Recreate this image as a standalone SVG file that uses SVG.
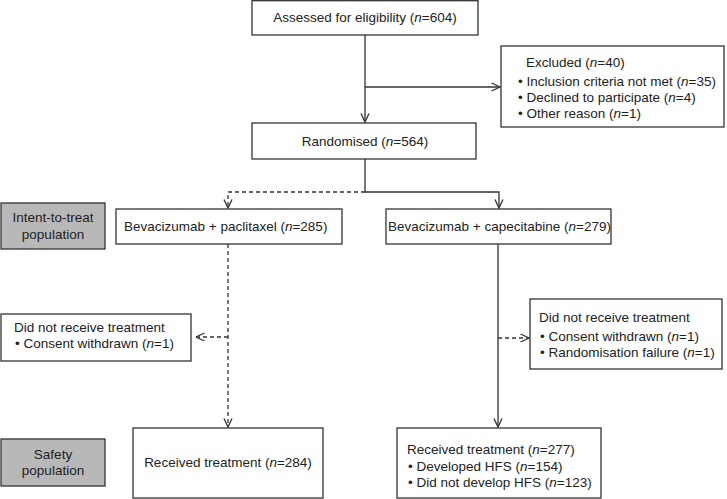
<svg xmlns="http://www.w3.org/2000/svg" width="727" height="499" viewBox="0 0 727 499">
<defs>
<marker id="ah" viewBox="0 0 10 10" refX="9.5" refY="5" markerWidth="10" markerHeight="10" markerUnits="userSpaceOnUse" orient="auto">
<path d="M1,1 L9.5,5 L1,9" fill="none" stroke="#333" stroke-width="1.3"/>
</marker>
</defs>
<style>
.box{fill:#fff;stroke:#333;stroke-width:1.3}
.gbox{fill:#b8b8b8;stroke:#333;stroke-width:1.3}
text{font-family:"Liberation Sans",Arial,sans-serif;font-size:13.5px;fill:#222}
.c{text-anchor:middle}
.ln{fill:none;stroke:#333;stroke-width:1.3}
.d{stroke-dasharray:4 3}
.i{font-style:italic}
</style>
<g id="connectors">
<path class="ln" d="M365,35 V122" marker-end="url(#ah)"/>
<path class="ln" d="M365,87 H500" marker-end="url(#ah)"/>
<path class="ln" d="M365,159 V192 H499 V208" marker-end="url(#ah)"/>
<path class="ln d" d="M365,192 H228 V208" marker-end="url(#ah)"/>
<path class="ln d" d="M228,244 V427" marker-end="url(#ah)"/>
<path class="ln d" d="M228,337 H196" marker-end="url(#ah)"/>
<path class="ln" d="M498,244 V427" marker-end="url(#ah)"/>
<path class="ln d" d="M498,338 H529" marker-end="url(#ah)"/>
</g>
<g id="assessed">
<rect class="box" x="252" y="0.7" width="226" height="34.3"/>
<text class="c" x="365" y="22">Assessed for eligibility (<tspan class="i">n</tspan>=604)</text>
</g>
<g id="excluded">
<rect class="box" x="501" y="46" width="223" height="81"/>
<text x="526" y="67">Excluded (<tspan class="i">n</tspan>=40)</text>
<text x="518" y="86">• Inclusion criteria not met (<tspan class="i">n</tspan>=35)</text>
<text x="518" y="102">• Declined to participate (<tspan class="i">n</tspan>=4)</text>
<text x="518" y="118">• Other reason (<tspan class="i">n</tspan>=1)</text>
</g>
<g id="randomised">
<rect class="box" x="252" y="123" width="224" height="36"/>
<text class="c" x="365" y="146">Randomised (<tspan class="i">n</tspan>=564)</text>
</g>
<g id="itt">
<rect class="gbox" x="1" y="203" width="104" height="46"/>
<text class="c" x="53" y="222">Intent-to-treat</text>
<text class="c" x="53" y="239">population</text>
</g>
<g id="paclitaxel">
<rect class="box" x="116" y="209" width="226" height="35"/>
<text x="124" y="231">Bevacizumab + paclitaxel (<tspan class="i">n</tspan>=285)</text>
</g>
<g id="capecitabine">
<rect class="box" x="386" y="209" width="225" height="35"/>
<text x="388" y="231">Bevacizumab + capecitabine (<tspan class="i">n</tspan>=279)</text>
</g>
<g id="notreceived-left">
<rect class="box" x="1" y="314" width="190" height="47"/>
<text x="14" y="332">Did not receive treatment</text>
<text x="15" y="348">• Consent withdrawn (<tspan class="i">n</tspan>=1)</text>
</g>
<g id="notreceived-right">
<rect class="box" x="530" y="299" width="192" height="70"/>
<text x="539" y="322">Did not receive treatment</text>
<text x="540" y="341">• Consent withdrawn (<tspan class="i">n</tspan>=1)</text>
<text x="540" y="357">• Randomisation failure (<tspan class="i">n</tspan>=1)</text>
</g>
<g id="safety">
<rect class="gbox" x="1" y="439" width="104" height="47"/>
<text class="c" x="53" y="459">Safety</text>
<text class="c" x="53" y="475">population</text>
</g>
<g id="received-left">
<rect class="box" x="133" y="428" width="190" height="70"/>
<text class="c" x="228" y="467">Received treatment (<tspan class="i">n</tspan>=284)</text>
</g>
<g id="received-right">
<rect class="box" x="397" y="428" width="204" height="70"/>
<text x="407" y="454">Received treatment (<tspan class="i">n</tspan>=277)</text>
<text x="408" y="471">• Developed HFS (<tspan class="i">n</tspan>=154)</text>
<text x="408" y="487">• Did not develop HFS (<tspan class="i">n</tspan>=123)</text>
</g>
</svg>
